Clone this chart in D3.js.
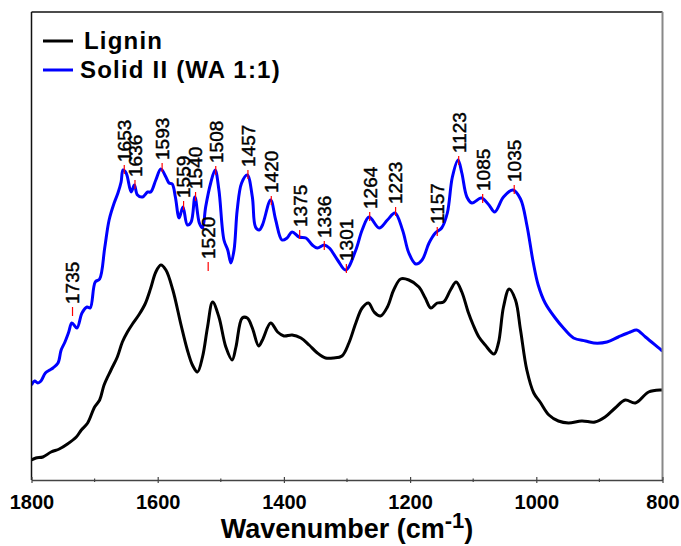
<!DOCTYPE html>
<html><head><meta charset="utf-8">
<script src="https://cdn.jsdelivr.net/npm/d3@7"></script>
<style>
html,body{margin:0;padding:0;background:#fff;}
svg{display:block;font-family:"Liberation Sans",Arial,sans-serif;}
</style></head>
<body><svg id="c" width="681" height="546"></svg>
<script>
// [wavenumber, absorbance (a.u.)]
const ligninSpectrum = [
[1800,0.20],[1793,0.22],[1782,0.23],[1769,0.28],[1756,0.31],[1743,0.36],[1729,0.43],[1721,0.50],[1711,0.57],[1700,0.73],[1692,0.80],[1685,0.95],[1674,1.10],[1664,1.23],[1656,1.38],[1648,1.48],[1640,1.56],[1630,1.65],[1620,1.76],[1611,1.92],[1603,2.08],[1595,2.15],[1587,2.10],[1576,1.90],[1563,1.55],[1553,1.30],[1545,1.15],[1537,1.08],[1529,1.23],[1521,1.53],[1513,1.78],[1503,1.63],[1492,1.33],[1482,1.20],[1476,1.33],[1466,1.62],[1458,1.62],[1450,1.52],[1440,1.34],[1434,1.40],[1421,1.57],[1410,1.48],[1400,1.44],[1387,1.45],[1373,1.42],[1360,1.35],[1347,1.27],[1334,1.22],[1321,1.22],[1308,1.24],[1297,1.37],[1286,1.57],[1276,1.72],[1266,1.77],[1257,1.68],[1247,1.64],[1236,1.73],[1226,1.90],[1215,2.01],[1202,2.00],[1186,1.93],[1176,1.82],[1167,1.72],[1157,1.77],[1147,1.78],[1136,1.90],[1127,1.98],[1118,1.88],[1108,1.68],[1100,1.55],[1091,1.43],[1081,1.35],[1067,1.26],[1060,1.37],[1052,1.73],[1043,1.91],[1033,1.80],[1025,1.50],[1015,1.10],[1004,0.87],[994,0.78],[980,0.65],[965,0.59],[949,0.57],[928,0.59],[907,0.58],[891,0.63],[875,0.72],[859,0.80],[843,0.77],[822,0.88],[802,0.90],[800,0.90]
];
const solidSpectrum = [
[1800,0.95],[1795,0.99],[1790,0.97],[1785,0.99],[1778,1.07],[1771,1.10],[1766,1.12],[1758,1.17],[1753,1.30],[1747,1.38],[1741,1.48],[1736,1.57],[1728,1.52],[1720,1.67],[1712,1.73],[1707,1.72],[1699,1.98],[1692,2.01],[1684,2.32],[1677,2.60],[1669,2.77],[1663,2.87],[1658,2.98],[1655,3.10],[1650,3.07],[1642,2.88],[1637,2.95],[1632,2.85],[1624,2.83],[1616,2.88],[1611,2.88],[1603,3.00],[1595,3.11],[1587,3.03],[1582,2.97],[1577,2.96],[1572,2.83],[1566,2.62],[1560,2.73],[1553,2.55],[1547,2.58],[1541,2.83],[1534,2.57],[1529,2.52],[1524,2.73],[1516,2.97],[1509,3.10],[1503,2.90],[1495,2.40],[1489,2.30],[1484,2.17],[1479,2.30],[1474,2.70],[1467,2.97],[1458,3.05],[1450,2.83],[1445,2.53],[1439,2.50],[1434,2.55],[1421,2.80],[1413,2.60],[1403,2.40],[1395,2.42],[1387,2.48],[1376,2.43],[1365,2.42],[1355,2.35],[1347,2.32],[1336,2.35],[1328,2.32],[1315,2.20],[1302,2.10],[1286,2.30],[1276,2.50],[1265,2.63],[1249,2.52],[1236,2.60],[1224,2.67],[1212,2.50],[1202,2.27],[1191,2.16],[1181,2.20],[1170,2.37],[1160,2.47],[1150,2.52],[1141,2.67],[1133,3.03],[1124,3.20],[1118,3.07],[1110,2.83],[1102,2.77],[1087,2.82],[1075,2.75],[1066,2.68],[1052,2.83],[1037,2.90],[1025,2.81],[1015,2.55],[1005,2.18],[997,1.95],[986,1.77],[970,1.62],[957,1.52],[941,1.42],[922,1.39],[909,1.37],[888,1.38],[870,1.43],[851,1.48],[841,1.50],[827,1.43],[802,1.30],[800,1.29]
];
const peakWaves  = [1735,1653,1636,1593,1559,1540,1520,1508,1457,1420,1375,1336,1301,1264,1223,1157,1123,1085,1035];
const peakLevels = [1.68,3.10,2.95,3.12,2.74,2.83,2.13,3.09,3.05,2.79,2.45,2.34,2.11,2.63,2.68,2.48,3.19,2.81,2.90];
const majorTicks = [1800,1600,1400,1200,1000,800];
const minorTicks = [1700,1500,1300,1100,900];
const seriesNames = ["Lignin","Solid II (WA 1:1)"];
const seriesColors = ["#000000","#0000ff"];

const svg = d3.select("#c");
const L = 31.5, R = 662.5, T = 12, B = 480;
const x = d3.scaleLinear().domain([1800,800]).range([L,R]);
const y = d3.scaleLinear().domain([0,4.68]).range([B,T]);

svg.append("clipPath").attr("id","clip").append("rect")
  .attr("x",L).attr("y",T).attr("width",R-L).attr("height",B-T);

const line = d3.line().x(d=>x(d[0])).y(d=>y(d[1])).curve(d3.curveCatmullRom.alpha(0.5));
const g = svg.append("g").attr("clip-path","url(#clip)");
[ligninSpectrum, solidSpectrum].forEach((s,i)=>{
  g.append("path").datum(s).attr("d",line).attr("fill","none")
   .attr("stroke",seriesColors[i]).attr("stroke-width",3).attr("stroke-linejoin","round");
});

// frame
svg.append("line").attr("x1",L).attr("x2",R).attr("y1",T).attr("y2",T).attr("stroke","#111").attr("stroke-width",1.5);
svg.append("line").attr("x1",L).attr("x2",L).attr("y1",T).attr("y2",B).attr("stroke","#111").attr("stroke-width",1.5);
svg.append("line").attr("x1",R).attr("x2",R).attr("y1",T).attr("y2",B).attr("stroke","#888").attr("stroke-width",2);

// x axis
const ax = svg.append("g").attr("transform",`translate(0,${B})`)
  .call(d3.axisBottom(x).tickValues(majorTicks).tickFormat(d3.format("d")).tickSizeInner(0).tickSizeOuter(0).tickPadding(15));
ax.select(".domain").attr("stroke","#444").attr("stroke-width",1.5);
ax.selectAll("text").attr("font-size",20).attr("font-weight","bold").attr("fill","#000")
  .attr("font-family","'Liberation Sans',Arial,sans-serif");
ax.selectAll(".tick").append("line").attr("y1",-3).attr("y2",3).attr("stroke","#444").attr("stroke-width",1.2);
svg.append("g").selectAll("line").data(minorTicks).join("line")
  .attr("x1",d=>x(d)).attr("x2",d=>x(d)).attr("y1",B-1.5).attr("y2",B+2)
  .attr("stroke","#444").attr("stroke-width",1.2);

// axis title
const t = svg.append("text").attr("x",(L+R)/2).attr("y",538).attr("text-anchor","middle")
  .attr("font-size",27).attr("font-weight","bold").attr("fill","#000");
t.append("tspan").text("Wavenumber (cm");
t.append("tspan").attr("font-size",22).attr("dy",-10).text("-1");
t.append("tspan").attr("dy",10).text(")");

// peak annotations
const pk = svg.append("g");
peakWaves.forEach((w,i)=>{
  const px = x(w), py = y(peakLevels[i]);
  pk.append("line").attr("x1",px).attr("x2",px).attr("y1",py-5).attr("y2",py+4)
    .attr("stroke","#ff0000").attr("stroke-width",1.2);
  pk.append("text").attr("transform",`translate(${px},${py-8}) rotate(-90)`)
    .attr("dy","0.36em").attr("font-size",19).attr("fill","#000")
    .attr("stroke","#000").attr("stroke-width",0.45).text(w);
});

// legend
const lg = svg.append("g");
seriesNames.forEach((n,i)=>{
  const yy = 41 + i*29;
  lg.append("line").attr("x1",43).attr("x2",73).attr("y1",yy).attr("y2",yy)
    .attr("stroke",seriesColors[i]).attr("stroke-width",3);
  lg.append("text").attr("x", i===0 ? 84 : 80).attr("y",yy+8).attr("font-size",24)
    .attr("font-weight","bold").attr("letter-spacing","1.2px").attr("fill","#000").text(n);
});
</script></body></html>
